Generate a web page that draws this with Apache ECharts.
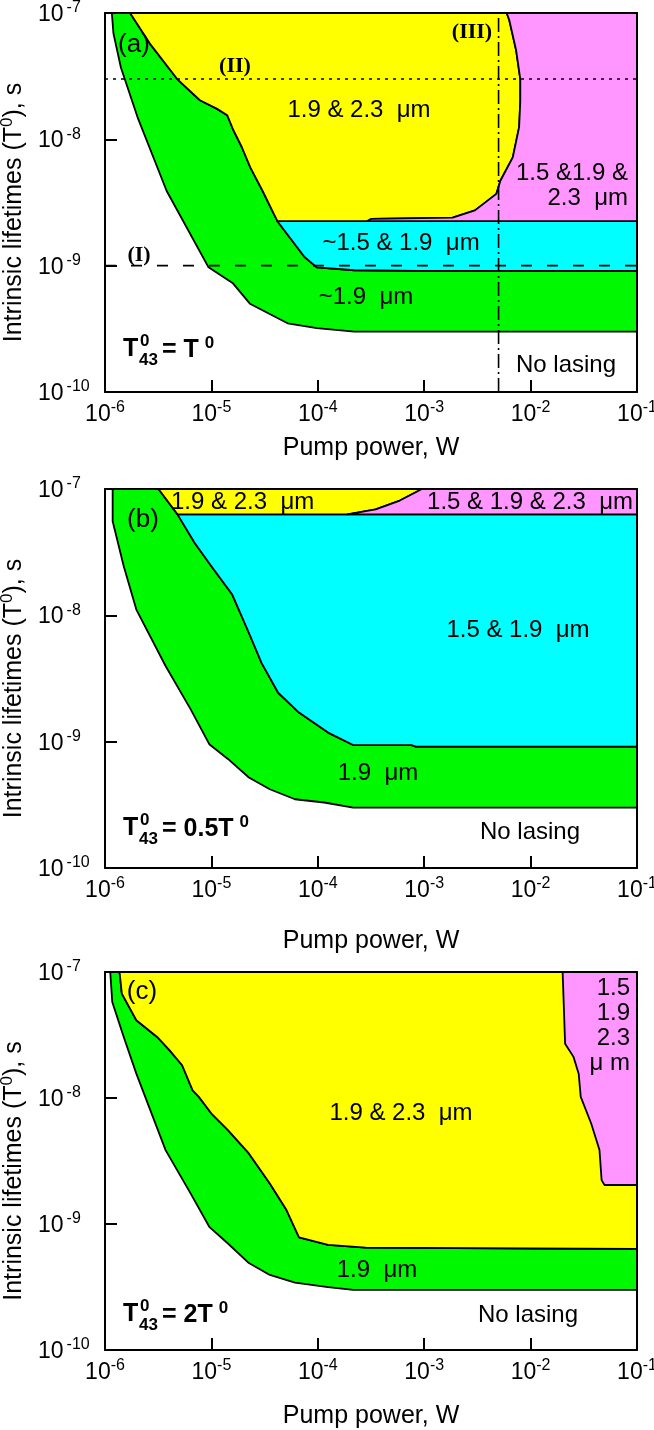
<!DOCTYPE html>
<html>
<head>
<meta charset="utf-8">
<script src="https://cdn.jsdelivr.net/npm/echarts@6/dist/echarts.min.js"></script>
<style>
html, body { margin: 0; padding: 0; background: #fff; }
#chart { width: 654px; height: 1430px; }
</style>
</head>
<body>
<div id="chart"></div>
<script>
const FONT = '"Liberation Sans", Arial, sans-serif';
const SERIF = '"Liberation Serif", "Times New Roman", serif';

// tick label exponents
const xTickLabels = ['-6', '-5', '-4', '-3', '-2', '-1'];
const yTickLabels = ['-10', '-9', '-8', '-7'];

// ---- panel (a): T43 = T0 ----
// green / no lasing boundary
const aEdgeLow = [[1.16e-6, 1e-7], [1.2e-6, 6.9e-8], [1.41e-6, 3.7e-8], [2.02e-6, 1.5e-8], [3.8e-6, 3.9e-9],
    [9.4e-6, 9.7e-10], [1.58e-5, 7.3e-10], [2.3e-5, 5.0e-10], [5.2e-5, 3.5e-10], [9.8e-5, 3.2e-10],
    [2.2e-4, 3.0e-10], [0.1, 3.0e-10]];
// green / upper regions boundary
const aEdgeMid = [[1.72e-6, 1e-7], [2.65e-6, 5.7e-8], [4.77e-6, 3.0e-8], [7.8e-6, 2.04e-8], [1.12e-5, 1.75e-8],
    [1.41e-5, 1.55e-8], [1.61e-5, 1.18e-8], [1.93e-5, 8.7e-9], [2.32e-5, 6.0e-9], [3.03e-5, 3.9e-9],
    [4.17e-5, 2.25e-9], [5.7e-5, 1.59e-9], [7.5e-5, 1.17e-9], [9.8e-5, 9.7e-10], [2.2e-4, 9.2e-10],
    [8.6e-4, 9.1e-10], [0.1, 9.1e-10]];
const aCorner = 10;
const aCyanTop = 2.25e-9;
// yellow / pink boundary
const aPinkEdge = [[2.9e-4, 2.25e-9], [3.2e-4, 2.35e-9], [1.85e-3, 2.4e-9], [3.0e-3, 2.74e-9], [4.77e-3, 3.7e-9],
    [5.2e-3, 4.7e-9], [6.8e-3, 7.2e-9], [7.8e-3, 1.25e-8], [8.0e-3, 2.0e-8], [8.0e-3, 3.0e-8],
    [7.3e-3, 5.1e-8], [6.3e-3, 8.8e-8], [5.96e-3, 1e-7]];
const aDottedY = 3e-8;    // (II)
const aDashedY = 1e-9;    // (I)
const aDashDotX = 5e-3;   // (III)

// ---- panel (b): T43 = 0.5 T0 ----
const bEdgeLow = [[1.18e-6, 1e-7], [1.18e-6, 5.55e-8], [1.5e-6, 2.45e-8], [1.97e-6, 1.11e-8], [3.71e-6, 3.97e-9],
    [6.37e-6, 1.81e-9], [9.55e-6, 9.55e-10], [1.43e-5, 7.3e-10], [2.25e-5, 5.2e-10], [3.54e-5, 4.2e-10],
    [6.1e-5, 3.5e-10], [1.15e-4, 3.3e-10], [2.15e-4, 3.0e-10], [0.1, 3.0e-10]];
const bEdgeMid = [[3.18e-6, 1e-7], [4.8e-6, 6.3e-8], [6.97e-6, 3.74e-8], [1e-5, 2.45e-8], [1.57e-5, 1.46e-8],
    [2.25e-5, 7.28e-9], [2.96e-5, 4.2e-9], [4.24e-5, 2.44e-9], [6.66e-5, 1.7e-9], [1.25e-4, 1.18e-9],
    [2.15e-4, 9.4e-10], [7.6e-4, 9.4e-10], [8.35e-4, 9.15e-10], [0.1, 9.15e-10]];
const bCorner = 1;
const bCyanTop = 6.3e-8;
const bPinkEdge = [[1.9e-4, 6.3e-8], [3.5e-4, 6.9e-8], [5.9e-4, 8.1e-8], [8.5e-4, 9.5e-8], [9.5e-4, 1e-7]];

// ---- panel (c): T43 = 2 T0 ----
const cEdgeLow = [[1.12e-6, 1e-7], [1.17e-6, 5.78e-8], [1.5e-6, 3.05e-8], [1.97e-6, 1.56e-8], [3.71e-6, 3.86e-9],
    [6.37e-6, 1.75e-9], [9.55e-6, 9.5e-10], [1.43e-5, 7.0e-10], [2.25e-5, 4.9e-10], [3.54e-5, 3.94e-10],
    [6.1e-5, 3.43e-10], [1.25e-4, 3.15e-10], [2.15e-4, 3.0e-10], [0.1, 3.0e-10]];
const cEdgeMid = [[1.37e-6, 1e-7], [1.44e-6, 6.73e-8], [1.97e-6, 4.14e-8], [3.09e-6, 3.05e-8], [4.05e-6, 2.39e-8],
    [5.31e-6, 1.82e-8], [6.66e-6, 1.15e-8], [7.62e-6, 1.02e-8], [1e-5, 7.53e-9], [1.43e-5, 5.56e-9],
    [2.25e-5, 3.63e-9], [3.54e-5, 2.1e-9], [5.08e-5, 1.29e-9], [6.66e-5, 7.83e-10], [1.25e-4, 6.82e-10],
    [2.82e-4, 6.5e-10], [0.1, 6.33e-10]];
const cPinkEdge = [[2.0e-2, 1e-7], [2.11e-2, 2.7e-8], [2.53e-2, 2.12e-8], [2.83e-2, 1.56e-8], [2.96e-2, 1.02e-8],
    [3.71e-2, 6.28e-9], [4.44e-2, 3.86e-9], [4.65e-2, 2.23e-9], [4.95e-2, 2.04e-9], [0.1, 2.04e-9]];

const X_MIN = 1e-6, X_MAX = 1e-1, Y_MIN = 1e-10, Y_MAX = 1e-7;

const GREEN = '#00f800', YELLOW = '#ffff00', CYAN = '#00ffff', PINK = '#ff96ff';

const grids = [
    { left: 105, top: 13, width: 532, height: 379, containLabel: false, outerBoundsMode: 'none' },
    { left: 105, top: 489, width: 532, height: 379, containLabel: false, outerBoundsMode: 'none' },
    { left: 105, top: 972, width: 532, height: 378, containLabel: false, outerBoundsMode: 'none' }
];
const xNameGaps = [44, 61, 54];

const supRich = {
    b: { fontFamily: FONT, fontSize: 23, lineHeight: 26, color: '#000', verticalAlign: 'bottom' },
    s: { fontFamily: FONT, fontSize: 16, lineHeight: 12, color: '#000', verticalAlign: 'top' },
    sy: { fontFamily: FONT, fontSize: 16, lineHeight: 12, color: '#000', verticalAlign: 'top', padding: [0, 0, 0, 3] }
};

const expOf = v => Math.round(Math.log10(v));

const xAxes = [], yAxes = [];
grids.forEach((g, i) => {
    xAxes.push({
        type: 'log', logBase: 10, gridIndex: i, min: X_MIN, max: X_MAX, position: 'bottom', z: 5,
        name: 'Pump power, W', nameLocation: 'middle', nameGap: xNameGaps[i],
        nameTextStyle: { fontFamily: FONT, fontSize: 25, color: '#000' },
        axisLine: { lineStyle: { color: '#000', width: 2 } },
        axisTick: { inside: true, length: 12, lineStyle: { color: '#000', width: 2 } },
        minorTick: { show: false },
        splitLine: { show: false },
        axisLabel: {
            margin: 8, showMinLabel: true, showMaxLabel: true,
            formatter: v => '{b|10}{s|' + xTickLabels[expOf(v) + 6] + '}',
            rich: supRich
        }
    });
    xAxes.push({
        type: 'log', logBase: 10, gridIndex: i, min: X_MIN, max: X_MAX, position: 'top', z: 5,
        axisLine: { lineStyle: { color: '#000', width: 2 } },
        axisTick: { show: false }, axisLabel: { show: false }, splitLine: { show: false }
    });
    yAxes.push({
        type: 'log', logBase: 10, gridIndex: i, min: Y_MIN, max: Y_MAX, position: 'left', z: 5,
        name: '{n|Intrinsic lifetimes (T}{s|0}{n|), s}', nameLocation: 'middle', nameGap: 63,
        nameTextStyle: {
            padding: [0, 20, 0, 0],
            rich: {
                n: { fontFamily: FONT, fontSize: 25, lineHeight: 28, color: '#000', verticalAlign: 'bottom' },
                s: { fontFamily: FONT, fontSize: 17, lineHeight: 14, color: '#000', verticalAlign: 'top' }
            }
        },
        axisLine: { lineStyle: { color: '#000', width: 2 } },
        axisTick: { inside: true, length: 12, lineStyle: { color: '#000', width: 2 } },
        minorTick: { show: false },
        splitLine: { show: false },
        axisLabel: {
            align: 'left', margin: 67, showMinLabel: true, showMaxLabel: true,
            formatter: v => '{b|10}{sy|' + yTickLabels[expOf(v) + 10] + '}',
            rich: supRich
        }
    });
    yAxes.push({
        type: 'log', logBase: 10, gridIndex: i, min: Y_MIN, max: Y_MAX, position: 'right', z: 5,
        axisLine: { lineStyle: { color: '#000', width: 2 } },
        axisTick: { show: false }, axisLabel: { show: false }, splitLine: { show: false }
    });
});

function region(i, pts, color) {
    return {
        type: 'custom', xAxisIndex: 2 * i, yAxisIndex: 2 * i, clip: true, silent: true, z: 2,
        data: pts,
        renderItem: (params, api) => {
            if (params.dataIndex !== 0) return null;
            return {
                type: 'polygon',
                shape: { points: pts.map(p => api.coord(p)) },
                style: { fill: color, stroke: '#000', lineWidth: 1.8, lineJoin: 'round' }
            };
        }
    };
}

function refLine(i, pts, dash) {
    return {
        type: 'line', xAxisIndex: 2 * i, yAxisIndex: 2 * i, data: pts, symbol: 'none', silent: true, z: 3,
        clip: true, lineStyle: { color: '#000', width: 1.6, type: dash }
    };
}

const series = [
    // (a)
    region(0, aEdgeLow.concat(aEdgeMid.slice().reverse()), GREEN),
    region(0, aEdgeMid.slice(aCorner).concat([[X_MAX, aCyanTop]]), CYAN),
    region(0, aEdgeMid.slice(0, aCorner + 1).concat(aPinkEdge), YELLOW),
    region(0, aPinkEdge.concat([[X_MAX, Y_MAX], [X_MAX, aCyanTop]]), PINK),
    refLine(0, [[X_MIN, aDottedY], [X_MAX, aDottedY]], [3, 5]),
    refLine(0, [[X_MIN, aDashedY], [X_MAX, aDashedY]], [11, 15]),
    refLine(0, [[aDashDotX, Y_MIN], [aDashDotX, Y_MAX]], [14, 4, 2, 4]),
    // (b)
    region(1, bEdgeLow.concat(bEdgeMid.slice().reverse()), GREEN),
    region(1, bEdgeMid.slice(bCorner).concat([[X_MAX, bCyanTop]]), CYAN),
    region(1, bEdgeMid.slice(0, bCorner + 1).concat(bPinkEdge), YELLOW),
    region(1, bPinkEdge.concat([[X_MAX, Y_MAX], [X_MAX, bCyanTop]]), PINK),
    // (c)
    region(2, cEdgeLow.concat(cEdgeMid.slice().reverse()), GREEN),
    region(2, cEdgeMid.concat([[X_MAX, Y_MAX]]), YELLOW),
    region(2, cPinkEdge.concat([[X_MAX, Y_MAX]]), PINK)
];

function label(text, x, y, opts) {
    opts = opts || {};
    const align = opts.align || 'center';
    return {
        type: 'text', x: x, y: y, z: 20, silent: true,
        style: {
            text: text, fill: '#000',
            font: opts.font || ('24px ' + FONT),
            align: align, textAlign: align,
            verticalAlign: 'middle', textVerticalAlign: 'middle'
        }
    };
}

function romanLabel(text, x, y) {
    return label(text, x, y, { font: 'bold 22px ' + SERIF });
}

function tLabel(y, rest) {
    const bold = 'bold 25px ' + FONT, small = 'bold 17px ' + FONT;
    return [
        label('T', 123, y, { align: 'left', font: bold }),
        label('0', 140, y - 8, { align: 'left', font: small }),
        label('43', 139, y + 11, { align: 'left', font: small }),
        {
            type: 'text', x: 162, y: y, z: 20, silent: true,
            style: {
                text: '{m|' + rest + '}{s|0}',
                align: 'left', textAlign: 'left', verticalAlign: 'middle', textVerticalAlign: 'middle',
                rich: {
                    m: { font: bold, fill: '#000', color: '#000', lineHeight: 28, verticalAlign: 'bottom' },
                    s: { font: small, fill: '#000', color: '#000', lineHeight: 12, verticalAlign: 'top', padding: [0, 0, 0, 6] }
                }
            }
        }
    ];
}

const graphic = [
    // (a)
    label('(a)', 134, 45, { font: '26px ' + FONT }),
    romanLabel('(II)', 235, 66),
    romanLabel('(III)', 472, 32),
    romanLabel('(I)', 139, 255),
    label('1.9 & 2.3  \u03bcm', 359, 110),
    label('1.5 &1.9 &', 628, 173, { align: 'right' }),
    label('2.3  \u03bcm', 628, 198, { align: 'right' }),
    label('~1.5 & 1.9  \u03bcm', 401, 243),
    label('~1.9  \u03bcm', 366, 297),
    label('No lasing', 566, 365),
    ...tLabel(349, '= T'),
    // (b)
    label('(b)', 143, 520, { font: '26px ' + FONT }),
    label('1.9 & 2.3  \u03bcm', 171, 502, { align: 'left' }),
    label('1.5 & 1.9 & 2.3  \u03bcm', 633, 502, { align: 'right' }),
    label('1.5 & 1.9  \u03bcm', 518, 630),
    label('1.9  \u03bcm', 378, 773),
    label('No lasing', 530, 832),
    ...tLabel(828, '= 0.5T'),
    // (c)
    label('(c)', 142, 992, { font: '26px ' + FONT }),
    label('1.9 & 2.3  \u03bcm', 401, 1113),
    label('1.5', 630, 988, { align: 'right' }),
    label('1.9', 630, 1013, { align: 'right' }),
    label('2.3', 630, 1038, { align: 'right' }),
    label('\u03bc m', 630, 1063, { align: 'right' }),
    label('1.9  \u03bcm', 377, 1270),
    label('No lasing', 528, 1315),
    ...tLabel(1314, '= 2T')
];

const chart = echarts.init(document.getElementById('chart'), null, { renderer: 'canvas' });
chart.setOption({
    animation: false,
    backgroundColor: '#fff',
    textStyle: { fontFamily: FONT },
    grid: grids,
    xAxis: xAxes,
    yAxis: yAxes,
    series: series,
    graphic: graphic
});
</script>
</body>
</html>
